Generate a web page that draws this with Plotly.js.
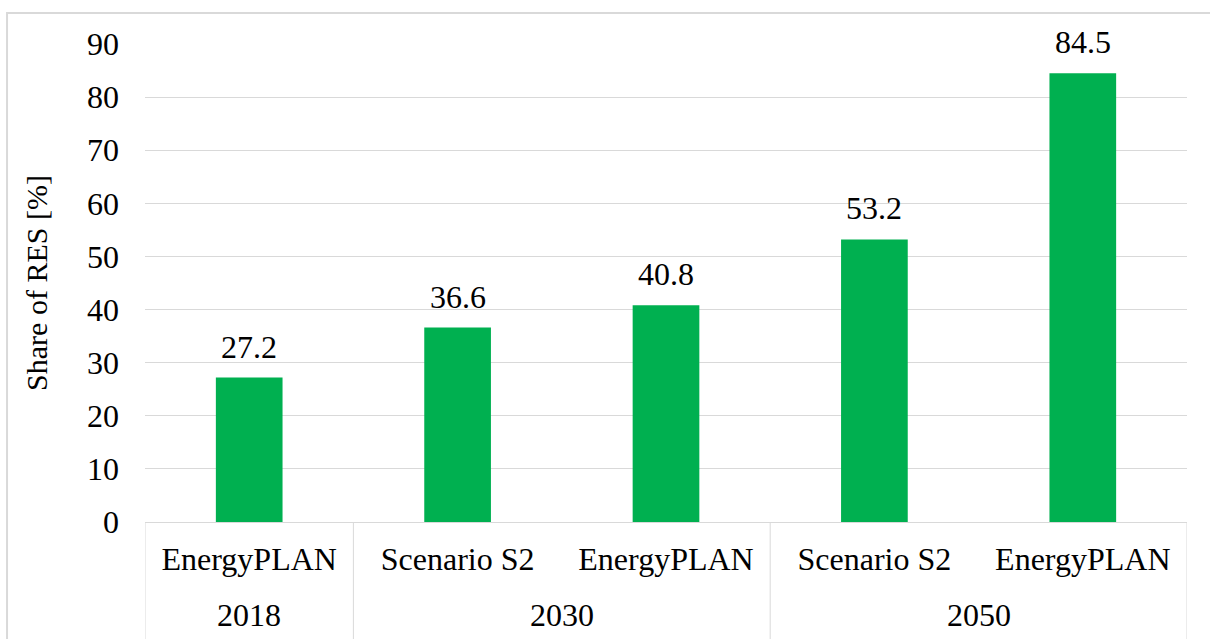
<!DOCTYPE html>
<html>
<head>
<meta charset="utf-8">
<script src="https://cdn.plot.ly/plotly-3.0.1.min.js"></script>
<style>html,body{margin:0;padding:0;background:#fff;}#chart{width:1210px;height:639px;}</style>
</head>
<body>
<div id="chart"></div>
<script>
const years = ["2018", "2030", "2030", "2050", "2050"];
const models = ["EnergyPLAN", "Scenario S2", "EnergyPLAN", "Scenario S2", "EnergyPLAN"];
const shareRES = [27.2, 36.6, 40.8, 53.2, 84.5];
const yTicks = [0, 10, 20, 30, 40, 50, 60, 70, 80, 90];

const font = "Liberation Serif";
const gray = "#d9d9d9";
const idx = models.map((_, i) => i);

// group years into contiguous blocks
const groups = [];
years.forEach((y, i) => {
  if (groups.length && groups[groups.length - 1].label === y) groups[groups.length - 1].end = i;
  else groups.push({label: y, start: i, end: i});
});

const trace = {
  type: "bar",
  x: idx,
  y: shareRES,
  marker: {color: "#00B050"},
  width: 0.32,
  hoverinfo: "none"
};

const annotations = shareRES.map((v, i) => ({
  x: i, y: v, xref: "x", yref: "y",
  text: v.toFixed(1), showarrow: false,
  yanchor: "bottom", yshift: 11,
  font: {family: font, size: 32, color: "#000"}
})).concat(groups.map(g => ({
  x: (g.start + g.end) / 2, y: -0.195, xref: "x", yref: "paper",
  text: g.label, showarrow: false, yanchor: "middle",
  font: {family: font, size: 32, color: "#000"}
})));

const boundaries = [-0.5].concat(groups.map(g => g.end + 0.5));
const shapes = boundaries.map(b => ({
  type: "line", xref: "x", yref: "paper",
  x0: b, x1: b, y0: 0, y1: -0.3,
  line: {color: gray, width: 1}
}));
shapes.push({
  type: "rect", xref: "paper", yref: "paper",
  x0: -0.1324, x1: 1.05, y0: -0.4, y1: 1.0649,
  line: {color: gray, width: 2}, fillcolor: "rgba(0,0,0,0)", layer: "below"
});

const layout = {
  width: 1210, height: 639,
  margin: {l: 145, r: 23, t: 44, b: 117},
  paper_bgcolor: "#fff", plot_bgcolor: "#fff",
  showlegend: false,
  font: {family: font, size: 32, color: "#000"},
  xaxis: {
    range: [-0.5, 4.5],
    tickvals: idx, ticktext: models,
    showgrid: false, zeroline: false,
    showline: true, linecolor: gray, linewidth: 1,
    ticks: "", ticklabelstandoff: 9,
    tickfont: {family: font, size: 32, color: "#000"}
  },
  yaxis: {
    range: [0, 90], tickvals: yTicks, ticktext: yTicks.map(String),
    showgrid: true, gridcolor: gray, gridwidth: 1,
    zeroline: false, showline: false, ticks: "",
    ticklabelstandoff: 25,
    tickfont: {family: font, size: 32, color: "#000"},
    title: {text: "Share of RES [%]", font: {family: font, size: 30, color: "#000"}, standoff: 30}
  },
  annotations: annotations,
  shapes: shapes
};

Plotly.newPlot("chart", [trace], layout, {displayModeBar: false, staticPlot: true});
</script>
</body>
</html>
